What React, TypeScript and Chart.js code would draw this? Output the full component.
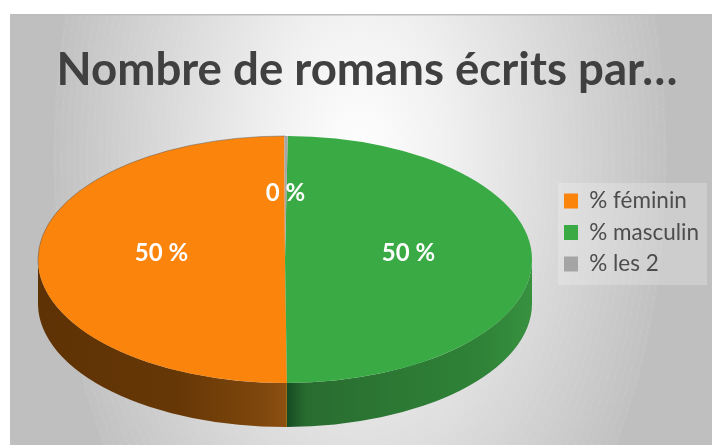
import React, { useEffect, useRef } from "react";
import { Chart, registerables } from "chart.js";

Chart.register(...registerables);

const titleText = "Nombre de romans écrits par…";
const categories = ["% féminin", "% masculin", "% les 2"];
const values = [50.08, 49.7, 0.22];
const colors = ["#fb840d", "#3aaa45", "#a5a5a5"];
const wallStops: [number, string][][] = [
  [[38, "#5e3205"], [180, "#673806"], [262, "#7f470d"], [285.5, "#8c5010"], [287, "#b8700f"]],
  [[287, "#154c23"], [306, "#296c30"], [400, "#2c7934"], [480, "#2f8238"], [532, "#37913f"]],
  [[284, "#666666"], [288, "#666666"]],
];

const pieBox = { cx: 285, cy: 259.5, rx: 247, ry: 123.5, depth: 44 };
const rotationDeg = 0.16;

function pieTransform(ctx: CanvasRenderingContext2D, arc: any) {
  const sx = pieBox.rx / arc.outerRadius;
  const sy = pieBox.ry / arc.outerRadius;
  ctx.translate(pieBox.cx, pieBox.cy);
  ctx.scale(-sx, sy);
  ctx.translate(-arc.x, -arc.y);
  return sy;
}

const scenePlugin = {
  id: "scene",
  afterLayout(chart: any) {
    const t = chart.titleBlock;
    t.left += 11;
    t.right += 11;
    const l = chart.legend;
    l.left = 555;
    l.right = 707;
    l.top = 180.75;
    l.bottom = 445;
  },
  beforeDraw(chart: any) {
    const ctx: CanvasRenderingContext2D = chart.ctx;
    const W = chart.width;
    const H = chart.height;
    ctx.save();
    ctx.fillStyle = "#bdbdbd";
    ctx.fillRect(10, 14, W - 10, H - 14);
    ctx.beginPath();
    ctx.rect(10, 15.5, W - 10, H - 15.5);
    ctx.clip();
    ctx.fillStyle = "#bfbfbf";
    ctx.fillRect(10, 14, W - 10, H - 14);
    ctx.save();
    ctx.translate(360, 160);
    ctx.scale(307, 521);
    const g = ctx.createRadialGradient(0, 0, 0, 0, 0, 1);
    g.addColorStop(0, "#ffffff");
    g.addColorStop(0.3, "#f0f0f0");
    g.addColorStop(0.6, "#dcdcdc");
    g.addColorStop(1, "#c1c1c1");
    g.addColorStop(1, "rgba(191,191,191,0)");
    ctx.fillStyle = g;
    ctx.fillRect(-2, -2, 4, 4);
    ctx.restore();
    ctx.strokeStyle = "rgba(255,255,255,0.16)";
    ctx.lineWidth = 0.6;
    ctx.setLineDash([7, 2]);
    for (let r = 0.3; r < 1; r += 0.021) {
      ctx.beginPath();
      ctx.ellipse(360, 160, 307 * r, 521 * r, 0, 0, Math.PI * 2);
      ctx.stroke();
    }
    ctx.restore();
    ctx.save();
    ctx.fillStyle = "rgba(255,255,255,0.22)";
    ctx.fillRect(558, 183, 149, 102);
    ctx.restore();
  },
  beforeDatasetsDraw(chart: any) {
    const ctx: CanvasRenderingContext2D = chart.ctx;
    const arcs = chart.getDatasetMeta(0).data;
    arcs.forEach((arc: any, i: number) => {
      const TAU = Math.PI * 2;
      let a = arc.startAngle % TAU;
      let b = arc.endAngle % TAU;
      if (a > b) a -= TAU;
      a = Math.max(a, 0);
      b = Math.min(b, Math.PI);
      if (b <= a) return;
      ctx.save();
      const sy = pieTransform(ctx, arc);
      const d = pieBox.depth / sy;
      ctx.beginPath();
      ctx.arc(arc.x, arc.y, arc.outerRadius, a, b);
      ctx.arc(arc.x, arc.y + d, arc.outerRadius, b, a, true);
      ctx.closePath();
      ctx.setTransform(1, 0, 0, 1, 0, 0);
      const stops = wallStops[i];
      const x0 = stops[0][0];
      const x1 = stops[stops.length - 1][0];
      const g = ctx.createLinearGradient(x0, 0, x1, 0);
      stops.forEach(([x, c]) => g.addColorStop((x - x0) / (x1 - x0), c));
      ctx.fillStyle = g;
      ctx.fill();
      ctx.restore();
    });
    ctx.save();
    pieTransform(ctx, arcs[0]);
  },
  afterDatasetsDraw(chart: any) {
    const ctx: CanvasRenderingContext2D = chart.ctx;
    ctx.restore();
    const arcs = chart.getDatasetMeta(0).data;
    ctx.save();
    pieTransform(ctx, arcs[0]);
    ctx.beginPath();
    ctx.arc(arcs[0].x, arcs[0].y, arcs[0].outerRadius, -Math.PI / 2, 0.05);
    ctx.setTransform(1, 0, 0, 1, 0, 0);
    ctx.strokeStyle = "rgba(90,90,90,0.7)";
    ctx.lineWidth = 0.7;
    ctx.stroke();
    ctx.restore();
    ctx.save();
    ctx.fillStyle = "#ffffff";
    ctx.font = "bold 24px Lato";
    ctx.textAlign = "center";
    ctx.textBaseline = "middle";
    arcs.forEach((arc: any, i: number) => {
      const mid = (arc.startAngle + arc.endAngle) / 2;
      const x = pieBox.cx - Math.cos(mid) * pieBox.rx * 0.5;
      const y = pieBox.cy + Math.sin(mid) * pieBox.ry * 0.54 - (i < 2 ? 6.5 : 0);
      ctx.fillText(Math.round(values[i]) + " %", x, y);
    });
    ctx.restore();
  },
};

export default function App() {
  const ref = useRef<HTMLCanvasElement>(null);
  useEffect(() => {
    const chart = new Chart(ref.current!, {
      type: "pie",
      data: {
        labels: categories,
        datasets: [
          {
            data: values,
            backgroundColor: colors,
            borderWidth: 0,
            clip: false,
          } as any,
        ],
      },
      plugins: [scenePlugin],
      options: {
        animation: false,
        responsive: false,
        rotation: rotationDeg,
        layout: { padding: 0 },
        plugins: {
          tooltip: { enabled: false },
          title: {
            display: true,
            text: titleText,
            color: "#404040",
            font: { family: "Lato", size: 45.6, weight: "bold" },
            padding: { top: 42.5, bottom: 10 },
          },
          legend: {
            display: true,
            position: "right",
            align: "start",
            labels: {
              color: "#4d4d4d",
              font: { family: "Lato", size: 22.5 },
              boxWidth: 14,
              boxHeight: 15,
              padding: 9,
            },
          },
        },
      },
    });
    return () => chart.destroy();
  }, []);
  return (
    <canvas
      ref={ref}
      width={712}
      height={445}
      style={{ position: "absolute", left: 0, top: 0, display: "block" }}
    />
  );
}
